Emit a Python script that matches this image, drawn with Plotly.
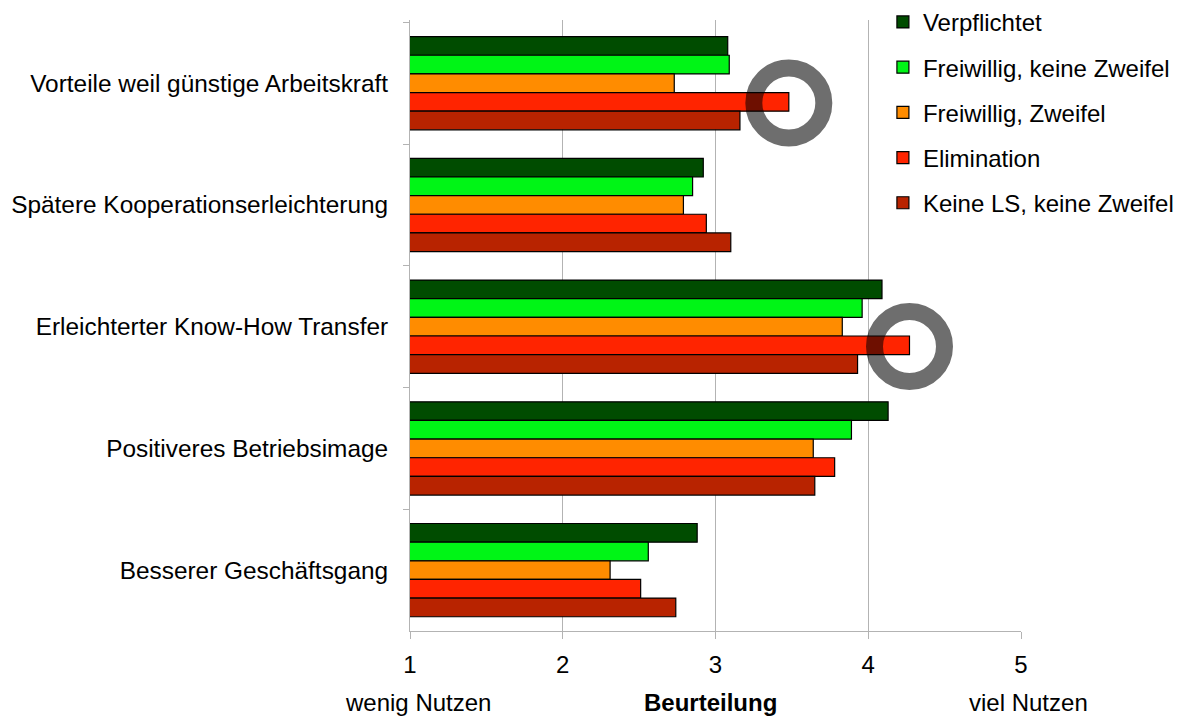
import plotly.graph_objects as go

categories = [
    "Vorteile weil günstige Arbeitskraft",
    "Spätere Kooperationserleichterung",
    "Erleichterter Know-How Transfer",
    "Positiveres Betriebsimage",
    "Besserer Geschäftsgang",
]
series_names = [
    "Verpflichtet",
    "Freiwillig, keine Zweifel",
    "Freiwillig, Zweifel",
    "Elimination",
    "Keine LS, keine Zweifel",
]
verpflichtet = [3.08, 2.92, 4.09, 4.13, 2.88]
freiwillig_keine_zweifel = [3.09, 2.85, 3.96, 3.89, 2.56]
freiwillig_zweifel = [2.73, 2.79, 3.83, 3.64, 2.31]
elimination = [3.48, 2.94, 4.27, 3.78, 2.51]
keine_ls = [3.16, 3.10, 3.93, 3.65, 2.74]
x_ticks = [1, 2, 3, 4, 5]
highlighted = ["Vorteile weil günstige Arbeitskraft", "Erleichterter Know-How Transfer"]

series_values = [verpflichtet, freiwillig_keine_zweifel, freiwillig_zweifel, elimination, keine_ls]
colors = ["#004c00", "#00f516", "#ff8c00", "#ff2400", "#b82300"]

# page body has an 8px margin, so the figure is sized to the visible area
W, H = 1177, 714
margin = dict(l=402, r=164, t=12, b=91, autoexpand=False)
bargap = 0.234
FONT = "Liberation Sans, Arial, sans-serif"
GRID = "#b3b3b3"

fig = go.Figure()
for i, (name, vals, col) in enumerate(zip(series_names, series_values, colors)):
    fig.add_trace(go.Bar(
        y=categories, x=vals, name=name, orientation="h",
        marker=dict(color=col, line=dict(color="black", width=1.2)),
        legendgroup=f"g{i}",
    ))

# highlight rings around the "Elimination" bars
plot_h = H - margin["t"] - margin["b"]
slot_px = plot_h / len(categories)
k = series_names.index("Elimination")
n = len(series_names)
offset_frac = -(1 - bargap) / 2 + (k + 0.5) * (1 - bargap) / n
offset_px = offset_frac * slot_px
r = 35
for cat in highlighted:
    ci = categories.index(cat)
    xv = elimination[ci]
    fig.add_shape(
        type="circle", xref="x", yref="y",
        xsizemode="pixel", ysizemode="pixel",
        xanchor=xv, yanchor=ci,
        x0=-r, x1=r, y0=-offset_px - r - 1, y1=-offset_px + r - 1,
        line=dict(color="rgba(0,0,0,0.57)", width=17),
        fillcolor="rgba(0,0,0,0)",
        layer="above",
    )

fig.add_annotation(x=1, y=0, xref="x", yref="paper", text="wenig Nutzen",
                   showarrow=False, yanchor="middle", yshift=-71, xshift=8,
                   font=dict(size=24, color="black", family=FONT))
fig.add_annotation(x=3, y=0, xref="x", yref="paper", text="<b>Beurteilung</b>",
                   showarrow=False, yanchor="middle", yshift=-71, xshift=-5,
                   font=dict(size=24, color="black", family=FONT))
fig.add_annotation(x=5, y=0, xref="x", yref="paper", text="viel Nutzen",
                   showarrow=False, yanchor="middle", yshift=-71, xshift=7,
                   font=dict(size=24, color="black", family=FONT))

fig.update_layout(
    width=W, height=H, margin=margin,
    paper_bgcolor="white", plot_bgcolor="white",
    barmode="group", bargap=bargap, bargroupgap=0,
    font=dict(family=FONT, size=24, color="black"),
    showlegend=True,
    legend=dict(
        x=0.774, xanchor="left", y=1.033, yanchor="top",
        bgcolor="white", traceorder="grouped", tracegroupgap=11,
        font=dict(size=24, family=FONT, color="black"),
        itemclick=False,
    ),
    xaxis=dict(
        range=[1, 5], tickvals=x_ticks, showgrid=True, gridcolor=GRID, gridwidth=1,
        showline=True, linecolor=GRID, linewidth=1,
        ticks="outside", ticklen=7, tickcolor=GRID,
        ticklabelstandoff=5, zeroline=False,
        tickfont=dict(size=24, family=FONT, color="black"),
    ),
    yaxis=dict(
        autorange="reversed", showgrid=False, showline=True, linecolor=GRID, linewidth=1,
        ticks="outside", ticklen=6, tickcolor=GRID, tickson="boundaries",
        ticklabelstandoff=16,
        tickfont=dict(size=24.4, family=FONT, color="black"),
    ),
)

fig.write_html("out.html")
